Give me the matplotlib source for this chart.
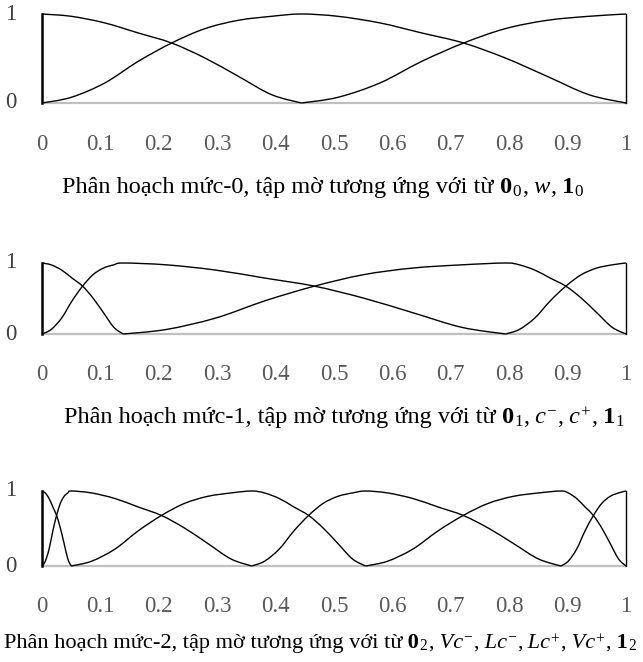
import numpy as np
import matplotlib
matplotlib.use("Agg")
import matplotlib.pyplot as plt
from matplotlib.path import Path
from matplotlib.patches import PathPatch

plt.rcParams['font.family'] = ['Liberation Serif', 'DejaVu Serif']
plt.rcParams['mathtext.fontset'] = 'custom'
plt.rcParams['mathtext.rm'] = 'Liberation Serif'
plt.rcParams['mathtext.it'] = 'Liberation Serif:italic'
plt.rcParams['mathtext.bf'] = 'Liberation Serif:bold'

# ---- data ----
x_ticks = [0, 0.1, 0.2, 0.3, 0.4, 0.5, 0.6, 0.7, 0.8, 0.9, 1]
x_tick_labels = ["0", "0.1", "0.2", "0.3", "0.4", "0.5", "0.6", "0.7", "0.8", "0.9", "1"]
y_ticks = [0, 1]
y_tick_labels = ["0", "1"]

# peak positions (cores) of the fuzzy sets in each partition level
peaks_level0 = [0.0, 0.444, 1.0]
peaks_level1 = [0.0, 0.139, 0.794, 1.0]
peaks_level2 = [0.0, 0.050, 0.359, 0.554, 0.8885, 1.0]

# membership shape (relative position within a slope)
shape_t = [0.0, 0.113, 0.242, 0.371, 0.5, 0.628, 0.757, 0.885, 1.0]
rise_mu = [0.0, 0.064, 0.225, 0.468, 0.674, 0.835, 0.929, 0.974, 1.0]
fall_mu = [1.0, 0.974, 0.900, 0.787, 0.674, 0.506, 0.300, 0.094, 0.0]

# captions as (text, style) pieces
caption0 = [("Phân hoạch mức-0, tập mờ tương ứng với từ", "rm"), (" 0", "bf"), ("$_{0}$", "math"),
            (",", "rm"), (" w", "it"), (",", "rm"), (" 1", "bf"), ("$_{0}$", "math")]
caption1 = [("Phân hoạch mức-1, tập mờ tương ứng với từ", "rm"), (" 0", "bf"), ("$_{1}$", "math"),
            (",", "rm"), (" c", "it"), ("$^{-}$", "math"), (",", "rm"), (" c", "it"), ("$^{+}$", "math"),
            (",", "rm"), (" 1", "bf"), ("$_{1}$", "math")]
caption2 = [("Phân hoạch mức-2, tập mờ tương ứng với từ", "rm"), (" 0", "bf"), ("$_{2}$", "math"),
            (",", "rm"), (" Vc", "it"), ("$^{-}$", "math"), (",", "rm"), (" Lc", "it"), ("$^{-}$", "math"),
            (",", "rm"), (" Lc", "it"), ("$^{+}$", "math"), (",", "rm"), (" Vc", "it"), ("$^{+}$", "math"),
            (",", "rm"), (" 1", "bf"), ("$_{2}$", "math")]
captions = [caption0, caption1, caption2]

W, H = 643, 662
fig = plt.figure(figsize=(W / 100, H / 100), dpi=100)
renderer = fig.canvas.get_renderer()

# axes boxes in pixels: (left, top, right, bottom)
boxes = [(42, 14, 626, 103), (42, 263, 626, 334), (42, 491, 626, 566)]
tick_y = [145, 375, 606]
cap_base = [193, 423, 648]
cap_x = [62, 64, 4]
cap_fs = [17.5, 17.5, 16.1]
TICK_FS = 16.5


def curve_points(peaks, k):
    xs, ys = [], []
    if k > 0:
        a, b = peaks[k - 1], peaks[k]
        for t, m in zip(shape_t, rise_mu):
            xs.append(a + t * (b - a)); ys.append(m)
    if k < len(peaks) - 1:
        a, b = peaks[k], peaks[k + 1]
        for i, (t, m) in enumerate(zip(shape_t, fall_mu)):
            if i == 0 and xs:
                continue
            xs.append(a + t * (b - a)); ys.append(m)
    return np.array(xs), np.array(ys)


def smooth_path(xs, ys):
    P = np.column_stack([xs, ys])
    n = len(P)
    verts = [P[0]]
    codes = [Path.MOVETO]
    for i in range(n - 1):
        p0 = P[i - 1] if i > 0 else P[i]
        p1 = P[i]
        p2 = P[i + 1]
        p3 = P[i + 2] if i + 2 < n else P[i + 1]
        c1 = p1 + (p2 - p0) / 6.0
        c2 = p2 - (p3 - p1) / 6.0
        verts += [c1, c2, p2]
        codes += [Path.CURVE4] * 3
    return Path(verts, codes)


def place_caption(pieces, x0, ybase, fs):
    x = x0
    for txt, style in pieces:
        kw = dict(fontsize=fs, va="baseline", ha="left", color="black")
        if style == "bf":
            kw["fontweight"] = "bold"
        elif style == "it":
            kw["fontstyle"] = "italic"
        t = fig.text(x / W, 1 - ybase / H, txt, **kw)
        bb = t.get_window_extent(renderer)
        x += bb.width
    return x


for li, peaks in enumerate([peaks_level0, peaks_level1, peaks_level2]):
    l, t, r, b = boxes[li]
    ax = fig.add_axes([l / W, 1 - b / H, (r - l) / W, (b - t) / H])
    ax.set_xlim(0, 1)
    ax.set_ylim(0, 1)
    for s in ax.spines.values():
        s.set_visible(False)
    ax.set_xticks([])
    ax.set_yticks([])
    ax.patch.set_alpha(0)
    # baseline
    ax.plot([x_ticks[0], x_ticks[-1]], [0, 0], color="#BFBFBF", lw=1.6,
            clip_on=False, solid_capstyle="butt", zorder=1)
    # end verticals
    ax.plot([peaks[0], peaks[0]], [0, 1], color="black", lw=1.8, clip_on=False, zorder=3)
    ax.plot([peaks[-1], peaks[-1]], [0, 1], color="black", lw=1.0, clip_on=False, zorder=3)
    for k in range(len(peaks)):
        xs, ys = curve_points(peaks, k)
        patch = PathPatch(smooth_path(xs, ys), facecolor="none", edgecolor="black",
                          lw=1.0, clip_on=False, zorder=2)
        ax.add_patch(patch)
    # y labels
    for yv, lab in zip(y_ticks, y_tick_labels):
        ax.annotate(lab, xy=(0, yv), xycoords="axes fraction", xytext=(-31, 0),
                    textcoords="offset pixels", ha="center", va="center",
                    fontsize=TICK_FS, color="#404040")
    # x tick labels
    for xv, lab in zip(x_ticks, x_tick_labels):
        px = l + xv * (r - l)
        fig.text(px / W, 1 - tick_y[li] / H, lab, ha="center", va="center",
                 fontsize=TICK_FS, color="#595959")
    place_caption(captions[li], cap_x[li], cap_base[li], cap_fs[li])

fig.savefig("out.png", dpi=100)
